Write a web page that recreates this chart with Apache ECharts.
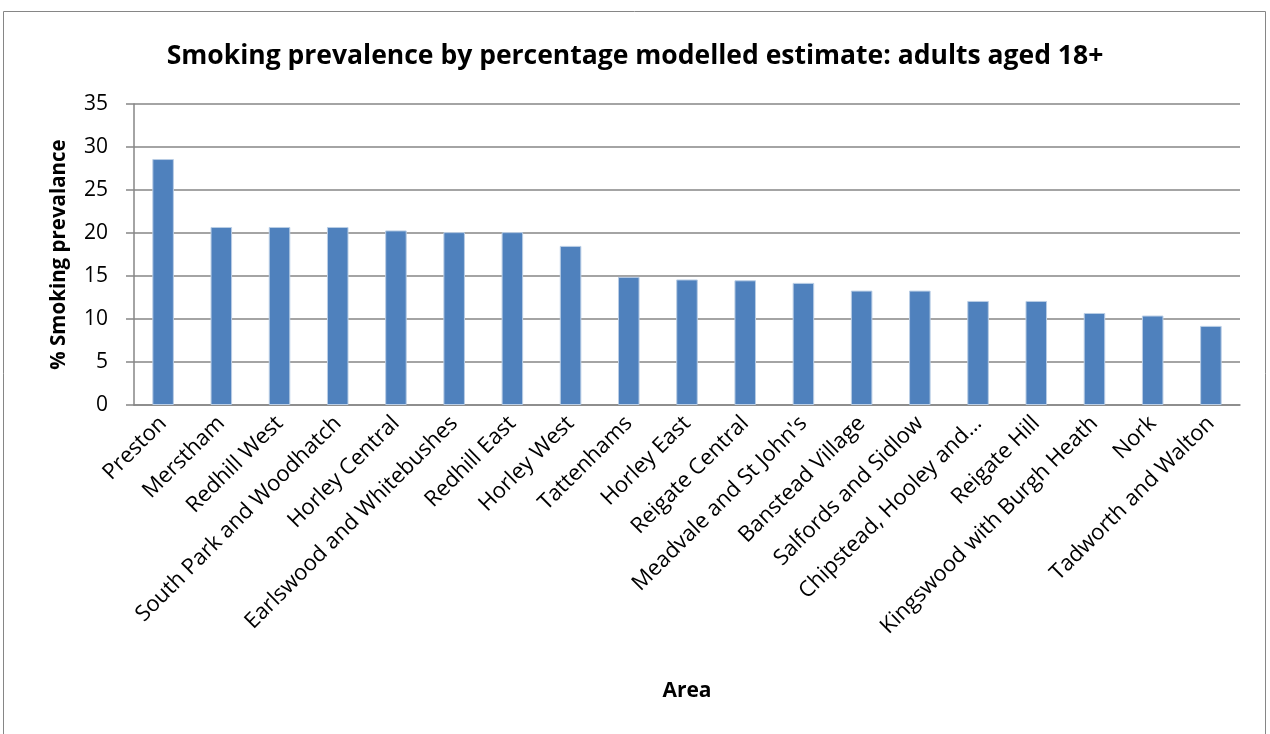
<!DOCTYPE html>
<html>
<head>
<meta charset="utf-8">
<script src="https://cdn.jsdelivr.net/npm/echarts@6/dist/echarts.min.js"></script>
<style>
  html, body { margin: 0; padding: 0; background: #fff; }
  #chart { width: 1270px; height: 734px; }
</style>
</head>
<body>
<div id="chart"></div>
<script>
// Ward areas, ordered by modelled smoking prevalence
const areas = [
  "Preston", "Merstham", "Redhill West", "South Park and Woodhatch",
  "Horley Central", "Earlswood and Whitebushes", "Redhill East", "Horley West",
  "Tattenhams", "Horley East", "Reigate Central", "Meadvale and St John's",
  "Banstead Village", "Salfords and Sidlow", "Chipstead, Hooley and\u2026",
  "Reigate Hill", "Kingswood with Burgh Heath", "Nork", "Tadworth and Walton"
];
// % smoking prevalence, adults aged 18+
const prevalence = [
  28.6, 20.7, 20.7, 20.7, 20.3, 20.1, 20.1, 18.5, 14.9, 14.6,
  14.5, 14.2, 13.3, 13.3, 12.1, 12.1, 10.7, 10.4, 9.2
];
const yTicks = { min: 0, max: 35, interval: 5 };

const FONT = "'Open Sans', 'Liberation Sans', sans-serif";
const chart = echarts.init(document.getElementById('chart'), null, { renderer: 'canvas' });

chart.setOption({
  animation: false,
  backgroundColor: '#ffffff',
  graphic: [{
    type: 'rect',
    shape: { x: 3.5, y: 11.5, width: 1262, height: 740 },
    style: { fill: 'none', stroke: '#868686', lineWidth: 1 },
    silent: true
  }],
  title: {
    text: 'Smoking prevalence by percentage modelled estimate: adults aged 18+',
    left: 'center',
    top: 38,
    textStyle: { fontFamily: FONT, fontSize: 26.5, fontWeight: 'bold', color: '#000' }
  },
  grid: { left: 134, right: 30, top: 104, bottom: 329, containLabel: false },
  xAxis: {
    type: 'category',
    data: areas,
    name: 'Area',
    nameLocation: 'middle',
    nameGap: 276,
    nameTextStyle: { fontFamily: FONT, fontSize: 21, fontWeight: 'bold', color: '#000' },
    axisLine: { lineStyle: { color: '#868686', width: 1.5 } },
    axisTick: { show: false },
    axisLabel: {
      interval: 0,
      rotate: 45,
      margin: 15,
      fontFamily: FONT,
      fontSize: 22,
      color: '#000'
    }
  },
  yAxis: {
    type: 'value',
    min: yTicks.min,
    max: yTicks.max,
    interval: yTicks.interval,
    name: '% Smoking prevalance',
    nameLocation: 'middle',
    nameGap: 64,
    nameTextStyle: { fontFamily: FONT, fontSize: 20.5, fontWeight: 'bold', color: '#000' },
    axisLine: { show: true, lineStyle: { color: '#868686', width: 1.5 } },
    axisTick: { show: true, length: 8, lineStyle: { color: '#868686', width: 1.5 } },
    axisLabel: { fontFamily: FONT, fontSize: 21, color: '#000', margin: 26 },
    splitLine: { show: true, lineStyle: { color: '#868686', width: 1.5 } }
  },
  series: [{
    type: 'bar',
    data: prevalence,
    barWidth: '37%',
    itemStyle: { color: '#4F81BD', borderColor: '#B9CDE5', borderWidth: 1 }
  }]
});
</script>
</body>
</html>
